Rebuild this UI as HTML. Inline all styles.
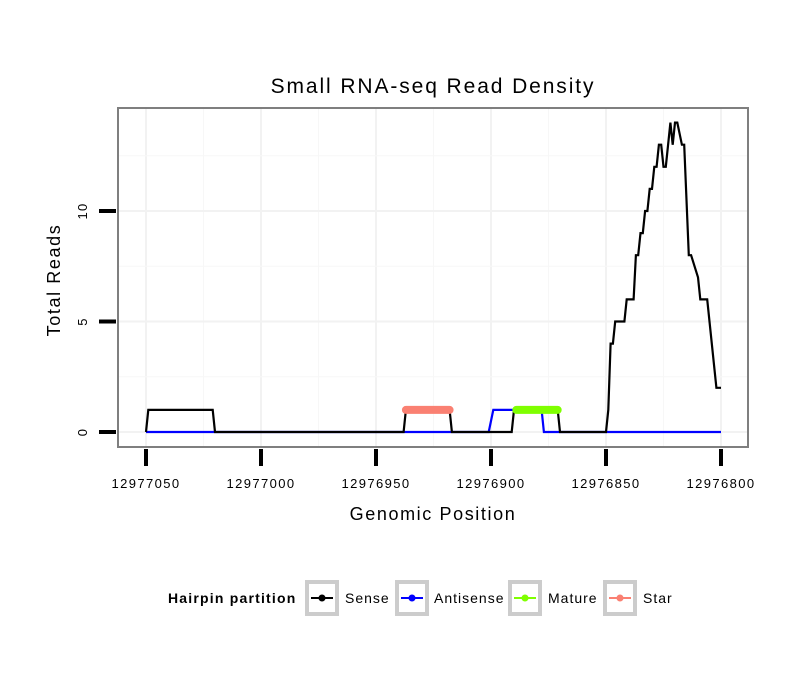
<!DOCTYPE html>
<html><head><meta charset="utf-8"><style>
body{margin:0;background:#fff}
svg{display:block;font-family:"Liberation Sans",sans-serif}
</style></head><body>
<svg id="chart" width="810" height="690" viewBox="0 0 810 690">
<text x="433" y="93" font-size="21" letter-spacing="1.9" text-anchor="middle">Small RNA-seq Read Density</text>
<rect x="118" y="108" width="630" height="339" fill="#fff"/>
<g id="grid"></g>
<g id="series"></g>
<rect x="118" y="108" width="630" height="339" fill="none" stroke="#7f7f7f" stroke-width="2"/>
<g id="axes"></g>
<text x="433" y="520" font-size="18" letter-spacing="1.6" text-anchor="middle">Genomic Position</text>
<text transform="translate(60,280) rotate(-90)" font-size="18" letter-spacing="1.6" text-anchor="middle">Total Reads</text>
<g font-size="14">
<text x="168" y="603" font-weight="bold" letter-spacing="1.2">Hairpin partition</text>
<g><rect x="307" y="582" width="30" height="32" fill="#fff" stroke="#ccc" stroke-width="4"/><line x1="311" y1="598" x2="333" y2="598" stroke="#000" stroke-width="2"/><circle cx="322" cy="598" r="3.5" fill="#000"/><text x="345" y="603" letter-spacing="1">Sense</text></g>
<g><rect x="397" y="582" width="30" height="32" fill="#fff" stroke="#ccc" stroke-width="4"/><line x1="401" y1="598" x2="423" y2="598" stroke="#00f" stroke-width="2"/><circle cx="412" cy="598" r="3.5" fill="#00f"/><text x="434" y="603" letter-spacing="1">Antisense</text></g>
<g><rect x="510" y="582" width="30" height="32" fill="#fff" stroke="#ccc" stroke-width="4"/><line x1="514" y1="598" x2="536" y2="598" stroke="#7fff00" stroke-width="2"/><circle cx="525" cy="598" r="3.5" fill="#7fff00"/><text x="548" y="603" letter-spacing="1">Mature</text></g>
<g><rect x="605" y="582" width="30" height="32" fill="#fff" stroke="#ccc" stroke-width="4"/><line x1="609" y1="598" x2="631" y2="598" stroke="#fa8072" stroke-width="2"/><circle cx="620" cy="598" r="3.5" fill="#fa8072"/><text x="643" y="603" letter-spacing="1">Star</text></g>
</g>
</svg>
<script>
const xTicks = [12977050, 12977000, 12976950, 12976900, 12976850, 12976800];
const yTicks = [0, 5, 10];
const sensePos = [12977050,12977049,12977021,12977020,12976938,12976937,12976918,12976917,12976891,12976890,12976871,12976870,12976850,12976849,12976848,12976847,12976846,12976842,12976841,12976838,12976837,12976836,12976835,12976834,12976833,12976832,12976831,12976830,12976829,12976828,12976827,12976826,12976825,12976824,12976822,12976821,12976820,12976819,12976817,12976816,12976814,12976813,12976810,12976809,12976806,12976805,12976803,12976802,12976800];
const senseVal = [0,1,1,0,0,1,1,0,0,1,1,0,0,1,4,4,5,5,6,6,8,8,9,9,10,10,11,11,12,12,13,13,12,12,14,13,14,14,13,13,8,8,7,6,6,5,3,2,2];
const antiPos = [12977050,12976901,12976899,12976878,12976877,12976800];
const antiVal = [0,0,1,1,0,0];
const starRange = [12976937, 12976918];
const matureRange = [12976889, 12976871];
const NS='http://www.w3.org/2000/svg';
const X = p => 146 + (12977050 - p) * 2.3;
const Y = v => 432 - v * 22.1;
function mk(parent, tag, attrs){const e=document.createElementNS(NS,tag);for(const k in attrs)e.setAttribute(k,attrs[k]);document.getElementById(parent).appendChild(e);return e;}
for (let i=0;i<xTicks.length;i++){
  const x=X(xTicks[i]);
  const g=mk('grid','line',{x1:x,x2:x,y1:108,y2:447,stroke:'#f2f2f2','stroke-width':2});
  
  
  if(i<xTicks.length-1){const xm=X((xTicks[i]+xTicks[i+1])/2);
    const m=mk('grid','line',{x1:xm,x2:xm,y1:108,y2:447,stroke:'#f7f7f7','stroke-width':1});
    
    }
}
for (const v of [0,2.5,5,7.5,10,12.5]){
  const y=Y(v);
  const g=mk('grid','line',{x1:118,x2:748,y1:y,y2:y,stroke:(v%5===0)?'#f2f2f2':'#f7f7f7','stroke-width':(v%5===0)?2:1});
  
  
}
for (const t of xTicks){
  const x=X(t);
  const l=mk('axes','line',{x1:x,x2:x,y1:449,y2:466,stroke:'#000','stroke-width':4});
  
  
  const tx=mk('axes','text',{x:x,y:488,'font-size':13,'letter-spacing':1.4,'text-anchor':'middle'});
  tx.textContent=t;
  
  
}
for (const t of yTicks){
  const y=Y(t);
  const l=mk('axes','line',{x1:99,x2:116,y1:y,y2:y,stroke:'#000','stroke-width':4});
  
  
  const tx=mk('axes','text',{transform:`translate(87,${y}) rotate(-90)`,'font-size':13,'letter-spacing':1.2,'text-anchor':'middle'});
  tx.textContent=t;
  
  
}
function pts(ps,vs){return ps.map((p,i)=>X(p)+','+Y(vs[i])).join(' ');}
const a=mk('series','polyline',{points:pts(antiPos,antiVal),fill:'none',stroke:'#00f','stroke-width':2.2});


const s=mk('series','polyline',{points:pts(sensePos,senseVal),fill:'none',stroke:'#000','stroke-width':2.2});


const st=mk('series','line',{x1:X(starRange[0]),x2:X(starRange[1]),y1:Y(1),y2:Y(1),stroke:'#fa8072','stroke-width':8,'stroke-linecap':'round'});


const mt=mk('series','line',{x1:X(matureRange[0]),x2:X(matureRange[1]),y1:Y(1),y2:Y(1),stroke:'#7fff00','stroke-width':8,'stroke-linecap':'round'});


</script>
</body></html>
